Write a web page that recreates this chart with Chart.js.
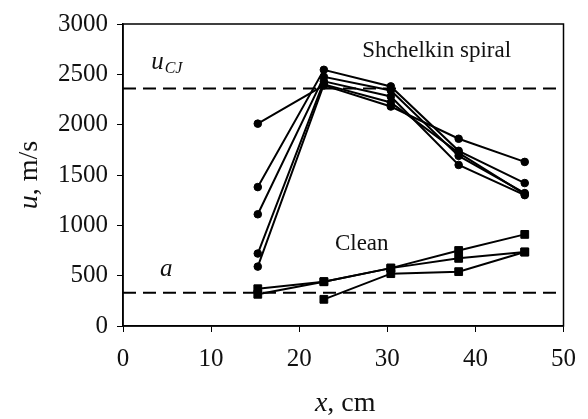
<!DOCTYPE html>
<html>
<head>
<meta charset="utf-8">
<script src="https://cdn.jsdelivr.net/npm/chart.js@4/dist/chart.umd.min.js"></script>
<style>
  html, body { margin: 0; padding: 0; background: #fff; }
  #wrap { width: 588px; height: 419px; position: relative; }
</style>
</head>
<body>
<div id="wrap"><canvas id="c" width="588" height="419"></canvas></div>
<script>
// Measurement positions along the tube, cm
const positions = [15.3, 22.8, 30.4, 38.1, 45.6];

// Shchelkin spiral runs, m/s
const spiral1 = [2010, 2390, 2180, 1860, 1630];
const spiral2 = [1380, 2545, 2380, 1740, 1420];
const spiral3 = [1110, 2475, 2340, 1690, 1320];
const spiral4 = [720, 2430, 2280, 1600, 1300];
const spiral5 = [590, 2400, 2220, 1720, 1310];

// Clean tube runs, m/s
const clean1 = [370, 440, 575, 750, 910];
const clean2 = [315, 440, 575, 672, 735];
const clean3 = [null, 265, 520, 540, 735];

// Reference speeds, m/s
const uCJ = 2360;
const soundSpeed = 330;

const xTicks = [0, 10, 20, 30, 40, 50];
const yTicks = [0, 500, 1000, 1500, 2000, 2500, 3000];

const serif = "'Liberation Serif', 'DejaVu Serif', serif";

function toPts(vals) {
  return vals.map((v, i) => ({ x: positions[i], y: v })).filter(p => p.y !== null);
}

function runSet(vals, style) {
  return {
    data: toPts(vals),
    borderColor: '#000',
    backgroundColor: '#000',
    borderWidth: 2,
    pointStyle: style,
    pointRadius: style === 'rect' ? 5.5 : 3.8,
    pointBorderWidth: 1,
    tension: 0,
    showLine: true
  };
}

function refLine(v) {
  return {
    data: [{ x: xTicks[0], y: v }, { x: xTicks[xTicks.length - 1], y: v }],
    borderColor: '#000',
    borderWidth: 2,
    borderDash: [13, 7],
    pointRadius: 0,
    showLine: true
  };
}

const frameAndText = {
  id: 'frameAndText',
  afterDraw(chart) {
    const { ctx, chartArea: a, scales } = chart;
    const xs = scales.x, ys = scales.y;
    ctx.save();
    ctx.strokeStyle = '#000';
    ctx.lineWidth = 1.5;
    ctx.strokeRect(a.left, a.top, a.right - a.left, a.bottom - a.top);

    ctx.fillStyle = '#111';
    ctx.textBaseline = 'middle';
    // annotations
    ctx.textAlign = 'center';
    ctx.font = '23px ' + serif;
    ctx.fillText('Shchelkin spiral', xs.getPixelForValue(35.6), ys.getPixelForValue(2730));
    ctx.fillText('Clean', xs.getPixelForValue(27.1), ys.getPixelForValue(820));

    ctx.textAlign = 'left';
    ctx.font = 'italic 25px ' + serif;
    const ux = xs.getPixelForValue(3.2), uy = ys.getPixelForValue(2620);
    ctx.fillText('u', ux, uy);
    const uw = ctx.measureText('u').width;
    ctx.font = 'italic 16px ' + serif;
    ctx.fillText('CJ', ux + uw + 1, uy + 7);
    ctx.font = 'italic 25px ' + serif;
    ctx.fillText('a', xs.getPixelForValue(4.2), ys.getPixelForValue(560));

    // axis titles
    const tf = 28;
    ctx.font = 'italic ' + tf + 'px ' + serif;
    const xi = 'x', xr = ', cm';
    const w1 = ctx.measureText(xi).width;
    ctx.font = tf + 'px ' + serif;
    const w2 = ctx.measureText(xr).width;
    let sx = (a.left + a.right) / 2 - (w1 + w2) / 2 + 2;
    const ty = 404;
    ctx.font = 'italic ' + tf + 'px ' + serif;
    ctx.fillText(xi, sx, ty);
    ctx.font = tf + 'px ' + serif;
    ctx.fillText(xr, sx + w1, ty);

    ctx.translate(30, (a.top + a.bottom) / 2);
    ctx.rotate(-Math.PI / 2);
    ctx.font = 'italic ' + tf + 'px ' + serif;
    const yi = 'u', yr = ', m/s';
    const v1 = ctx.measureText(yi).width;
    ctx.font = tf + 'px ' + serif;
    const v2 = ctx.measureText(yr).width;
    const s0 = -(v1 + v2) / 2;
    ctx.font = 'italic ' + tf + 'px ' + serif;
    ctx.fillText(yi, s0, 0);
    ctx.font = tf + 'px ' + serif;
    ctx.fillText(yr, s0 + v1, 0);
    ctx.restore();
  }
};

new Chart(document.getElementById('c'), {
  type: 'scatter',
  data: {
    datasets: [
      refLine(uCJ),
      refLine(soundSpeed),
      runSet(spiral1, 'circle'),
      runSet(spiral2, 'circle'),
      runSet(spiral3, 'circle'),
      runSet(spiral4, 'circle'),
      runSet(spiral5, 'circle'),
      runSet(clean1, 'rect'),
      runSet(clean2, 'rect'),
      runSet(clean3, 'rect')
    ]
  },
  options: {
    responsive: false,
    animation: false,
    layout: { padding: { top: 18, right: 18, left: 0, bottom: 0 } },
    plugins: { legend: { display: false }, tooltip: { enabled: false } },
    scales: {
      x: {
        type: 'linear',
        min: xTicks[0], max: xTicks[xTicks.length - 1],
        afterBuildTicks: s => { s.ticks = xTicks.map(v => ({ value: v })); },
        afterFit: s => { s.height = 93; },
        border: { display: true, color: '#000', width: 1.5 },
        grid: { display: true, drawOnChartArea: false, drawTicks: true, tickLength: 6, color: '#000', lineWidth: 1 },
        ticks: { color: '#111', font: { family: serif, size: 25 }, padding: 12, maxRotation: 0,
                 callback: v => String(v) }
      },
      y: {
        type: 'linear',
        min: yTicks[0], max: yTicks[yTicks.length - 1],
        afterBuildTicks: s => { s.ticks = yTicks.map(v => ({ value: v })); },
        afterFit: s => { s.width = 123; },
        border: { display: true, color: '#000', width: 1.5 },
        grid: { display: true, drawOnChartArea: false, drawTicks: true, tickLength: 6, color: '#000', lineWidth: 1 },
        ticks: { color: '#111', font: { family: serif, size: 25 }, padding: 9,
                 callback: v => String(v) }
      }
    }
  },
  plugins: [frameAndText]
});
</script>
</body>
</html>
